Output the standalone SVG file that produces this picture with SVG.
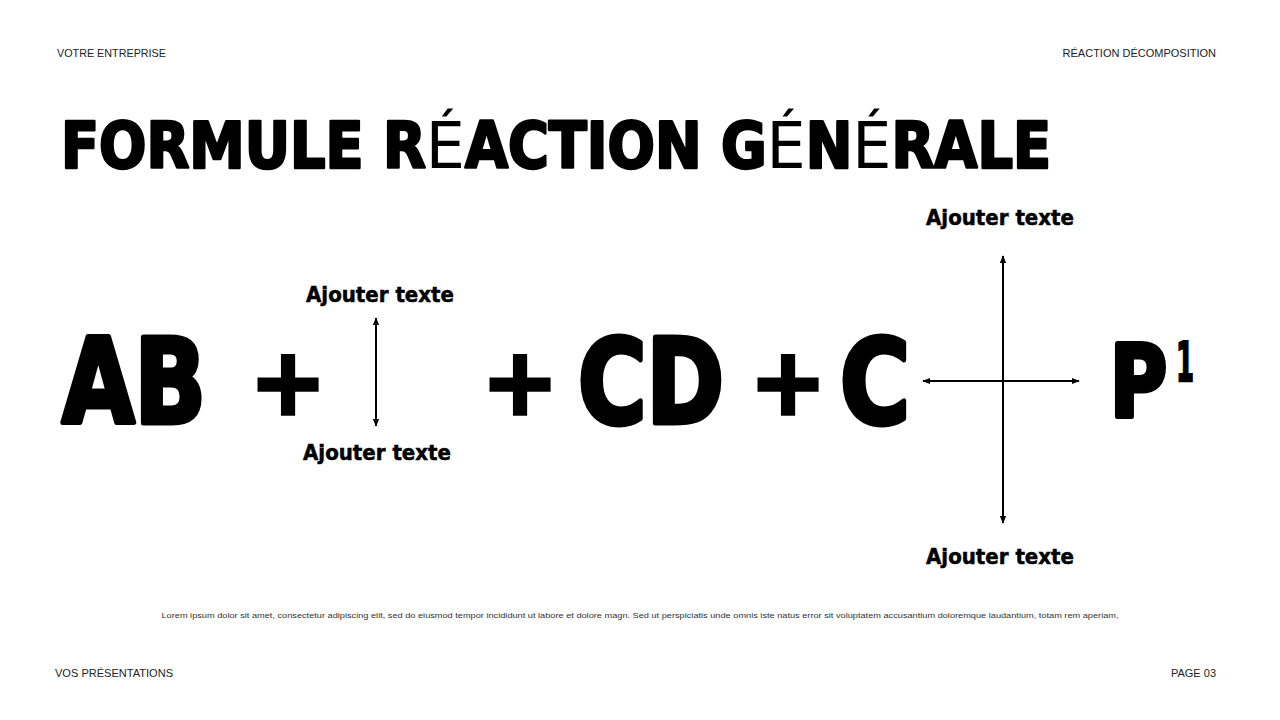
<svg xmlns="http://www.w3.org/2000/svg" width="1280" height="720" viewBox="0 0 1280 720">
<defs>
<style>
.small{font-family:"Liberation Sans","Noto Sans",sans-serif;font-size:11px;fill:#222}
.title{font-family:"DejaVu Sans Condensed","DejaVu Sans",sans-serif;font-weight:bold;font-size:64px;fill:#000;stroke:#000;stroke-width:2.5;stroke-linejoin:round}
.thin{font-family:"DejaVu Sans","Noto Sans",sans-serif;font-weight:normal;stroke-width:0}
.big{font-family:"DejaVu Sans Condensed","DejaVu Sans",sans-serif;font-weight:bold;font-size:118px;fill:#000;stroke:#000;stroke-width:5;stroke-linejoin:round}
.pbig{font-family:"DejaVu Sans Condensed","DejaVu Sans",sans-serif;font-weight:bold;font-size:99px;fill:#000;stroke:#000;stroke-width:5;stroke-linejoin:round}
.sup{font-family:"DejaVu Sans Condensed","DejaVu Sans",sans-serif;font-weight:bold;font-size:56px;fill:#000;stroke:#000;stroke-width:2}
.plus{font-family:"DejaVu Sans",sans-serif;font-weight:bold;font-size:92px;fill:#000;stroke:#000;stroke-width:3.5}
.lbl{font-family:"DejaVu Sans Condensed","DejaVu Sans",sans-serif;font-weight:bold;font-size:22px;fill:#000;stroke:#000;stroke-width:0.5}
.lorem{font-family:"Liberation Sans","Noto Sans",sans-serif;font-size:7.5px;fill:#333}
.arrow{stroke:#000;stroke-width:2;fill:none;marker-start:url(#ah);marker-end:url(#ah)}
</style>
<marker id="ah" viewBox="0 0 10 10" refX="9" refY="5" markerWidth="4" markerHeight="4" orient="auto-start-reverse">
<path d="M0,1 L10,5 L0,9 Z" fill="#000"/>
</marker>
</defs>
<rect width="1280" height="720" fill="#fff"/>
<g id="header">
<text class="small" x="57" y="57" textLength="109" lengthAdjust="spacingAndGlyphs">VOTRE ENTREPRISE</text>
<text class="small" x="1216" y="57" text-anchor="end">RÉACTION DÉCOMPOSITION</text>
<text class="small" x="55" y="677" textLength="118" lengthAdjust="spacingAndGlyphs">VOS PRÉSENTATIONS</text>
<text class="small" x="1216" y="677" text-anchor="end">PAGE 03</text>
</g>
<g id="title">
<text class="title" x="61" y="168" textLength="990" lengthAdjust="spacingAndGlyphs">FORMULE R<tspan class="thin">É</tspan>ACTION G<tspan class="thin">É</tspan>N<tspan class="thin">É</tspan>RALE</text>
</g>
<g id="formula">
<text class="big" x="62" y="423" textLength="144" lengthAdjust="spacingAndGlyphs">AB</text>
<text class="plus" x="288" y="414" text-anchor="middle">+</text>
<text class="plus" x="520" y="414" text-anchor="middle">+</text>
<text class="big" x="578" y="423" textLength="146" lengthAdjust="spacingAndGlyphs">CD</text>
<text class="plus" x="788" y="414" text-anchor="middle">+</text>
<text class="big" x="840" y="423" textLength="70" lengthAdjust="spacingAndGlyphs">C</text>
<text class="pbig" x="1110" y="416" textLength="57" lengthAdjust="spacingAndGlyphs">P</text>
<text class="sup" x="1176" y="381" textLength="18" lengthAdjust="spacingAndGlyphs">1</text>
</g>
<g id="label1"><text class="lbl" x="380" y="302" text-anchor="middle">Ajouter texte</text></g>
<g id="label2"><text class="lbl" x="377" y="460" text-anchor="middle">Ajouter texte</text></g>
<g id="label3"><text class="lbl" x="1000" y="225" text-anchor="middle">Ajouter texte</text></g>
<g id="label4"><text class="lbl" x="1000" y="564" text-anchor="middle">Ajouter texte</text></g>
<g id="connectors">
<line class="arrow" x1="376" y1="318" x2="376" y2="426"/>
<line class="arrow" x1="1003" y1="256" x2="1003" y2="523"/>
<line class="arrow" x1="923" y1="381" x2="1079" y2="381"/>
</g>
<g id="footer">
<text class="lorem" x="640" y="618" text-anchor="middle" textLength="957" lengthAdjust="spacingAndGlyphs">Lorem ipsum dolor sit amet, consectetur adipiscing elit, sed do eiusmod tempor incididunt ut labore et dolore magn. Sed ut perspiciatis unde omnis iste natus error sit voluptatem accusantium doloremque laudantium, totam rem aperiam,</text>
</g>
</svg>
